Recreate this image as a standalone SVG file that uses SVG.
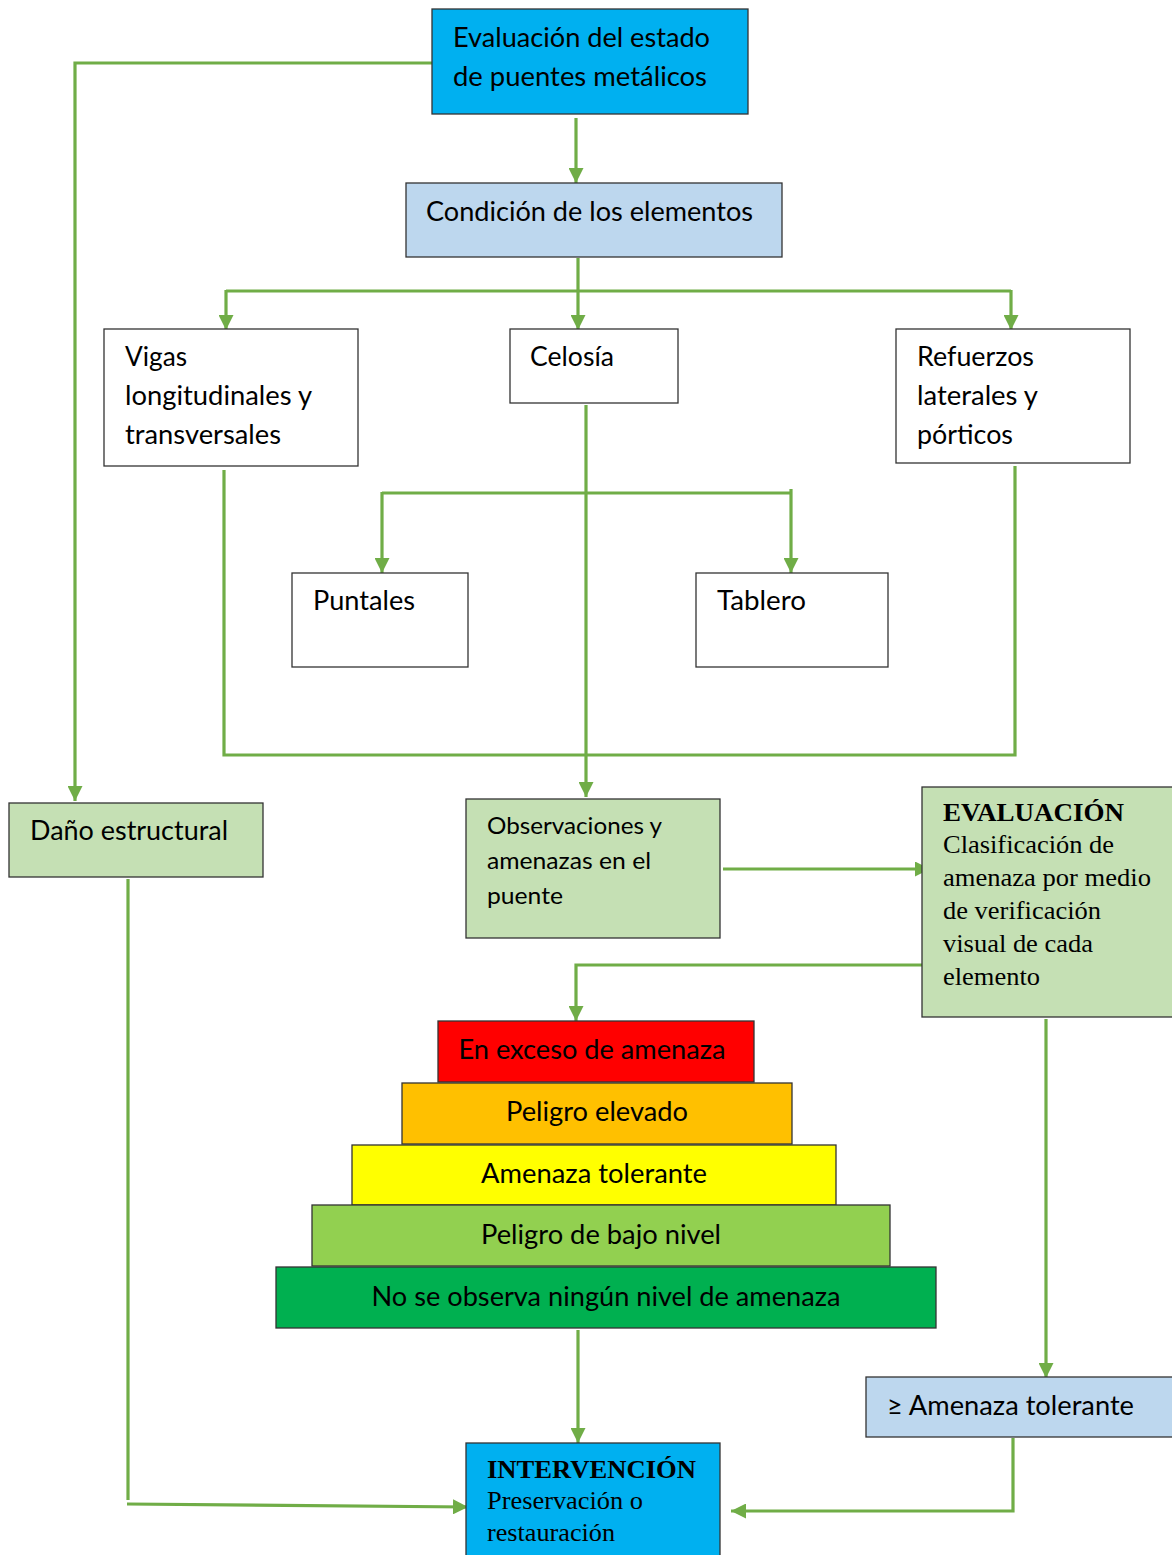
<svg xmlns="http://www.w3.org/2000/svg" width="1172" height="1555" viewBox="0 0 1172 1555">
<defs>
<marker id="ah" markerUnits="userSpaceOnUse" markerWidth="15" markerHeight="15" refX="15" refY="7.5" orient="auto">
<path d="M0,0 L15,7.5 L0,15 z" fill="#70AD47"/>
</marker>
<style>
.box{stroke:#333;stroke-width:1.3}
.s{font-family:Lato,"Open Sans","Liberation Sans",sans-serif;font-size:26px;fill:#000}
.sm{font-size:23px}
.pt{font-size:26px;text-anchor:middle}
.r{font-family:"Liberation Serif","Times New Roman",serif;font-size:25px;fill:#000}
.b{font-weight:bold}
.c{fill:none;stroke:#70AD47;stroke-width:3.2}
</style>
</defs>
<rect width="1172" height="1555" fill="#fff"/>

<g id="connectors">
<path class="c" d="M576,118 V183" marker-end="url(#ah)"/>
<path class="c" d="M578,258 V291"/>
<path class="c" d="M226,291 H1011"/>
<path class="c" d="M226,290 V330" marker-end="url(#ah)"/>
<path class="c" d="M578,290 V330" marker-end="url(#ah)"/>
<path class="c" d="M1011,290 V330" marker-end="url(#ah)"/>
<path class="c" d="M586,405 V797" marker-end="url(#ah)"/>
<path class="c" d="M382,493 H791"/>
<path class="c" d="M382,492 V573" marker-end="url(#ah)"/>
<path class="c" d="M791,489 V573" marker-end="url(#ah)"/>
<path class="c" d="M224,470 V755 H1015 V466"/>
<path class="c" d="M432,63 H75 V801" marker-end="url(#ah)"/>
<path class="c" d="M128,879 V1500"/>
<path class="c" d="M127,1504 L468,1507" marker-end="url(#ah)"/>
<path class="c" d="M723,869 H930" marker-end="url(#ah)"/>
<path class="c" d="M928,965 H576 V1021" marker-end="url(#ah)"/>
<path class="c" d="M1046,1019 V1378" marker-end="url(#ah)"/>
<path class="c" d="M1013,1438 V1511 H731" marker-end="url(#ah)"/>
<path class="c" d="M578,1330 V1443" marker-end="url(#ah)"/>
</g>

<g id="n_evaluacion_estado">
<rect class="box" x="432" y="9" width="316" height="105" fill="#00B0F0"/>
<text class="s" x="453" y="47" textLength="257" lengthAdjust="spacingAndGlyphs">Evaluación del estado</text>
<text class="s" x="453" y="86" textLength="254" lengthAdjust="spacingAndGlyphs">de puentes metálicos</text>
</g>

<g id="n_condicion">
<rect class="box" x="406" y="183" width="376" height="74" fill="#BDD7EE"/>
<text class="s" x="426" y="221" textLength="327" lengthAdjust="spacingAndGlyphs">Condición de los elementos</text>
</g>

<g id="n_vigas">
<rect class="box" x="104" y="329" width="254" height="137" fill="#fff"/>
<text class="s" x="125" y="366" textLength="62" lengthAdjust="spacingAndGlyphs">Vigas</text>
<text class="s" x="125" y="405" textLength="187" lengthAdjust="spacingAndGlyphs">longitudinales y</text>
<text class="s" x="125" y="444" textLength="156" lengthAdjust="spacingAndGlyphs">transversales</text>
</g>

<g id="n_celosia">
<rect class="box" x="510" y="329" width="168" height="74" fill="#fff"/>
<text class="s" x="530" y="366" textLength="84" lengthAdjust="spacingAndGlyphs">Celosía</text>
</g>

<g id="n_refuerzos">
<rect class="box" x="896" y="329" width="234" height="134" fill="#fff"/>
<text class="s" x="917" y="366" textLength="117" lengthAdjust="spacingAndGlyphs">Refuerzos</text>
<text class="s" x="917" y="405" textLength="121" lengthAdjust="spacingAndGlyphs">laterales y</text>
<text class="s" x="917" y="444" textLength="96" lengthAdjust="spacingAndGlyphs">pórticos</text>
</g>

<g id="n_puntales">
<rect class="box" x="292" y="573" width="176" height="94" fill="#fff"/>
<text class="s" x="313" y="610" textLength="102" lengthAdjust="spacingAndGlyphs">Puntales</text>
</g>

<g id="n_tablero">
<rect class="box" x="696" y="573" width="192" height="94" fill="#fff"/>
<text class="s" x="717" y="610" textLength="89" lengthAdjust="spacingAndGlyphs">Tablero</text>
</g>

<g id="n_dano">
<rect class="box" x="9" y="803" width="254" height="74" fill="#C5E0B4"/>
<text class="s" x="30" y="840" textLength="198" lengthAdjust="spacingAndGlyphs">Daño estructural</text>
</g>

<g id="n_observaciones">
<rect class="box" x="466" y="799" width="254" height="139" fill="#C5E0B4"/>
<text class="s sm" x="487" y="834" textLength="175" lengthAdjust="spacingAndGlyphs">Observaciones y</text>
<text class="s sm" x="487" y="869" textLength="164" lengthAdjust="spacingAndGlyphs">amenazas en el</text>
<text class="s sm" x="487" y="904" textLength="76" lengthAdjust="spacingAndGlyphs">puente</text>
</g>

<g id="n_evaluacion">
<rect class="box" x="922" y="787" width="260" height="230" fill="#C5E0B4"/>
<text class="r b" x="943" y="821" textLength="181" lengthAdjust="spacingAndGlyphs">EVALUACIÓN</text>
<text class="r" x="943" y="853" textLength="171" lengthAdjust="spacingAndGlyphs">Clasificación de</text>
<text class="r" x="943" y="886" textLength="208" lengthAdjust="spacingAndGlyphs">amenaza por medio</text>
<text class="r" x="943" y="919" textLength="158" lengthAdjust="spacingAndGlyphs">de verificación</text>
<text class="r" x="943" y="952" textLength="150" lengthAdjust="spacingAndGlyphs">visual de cada</text>
<text class="r" x="943" y="985" textLength="97" lengthAdjust="spacingAndGlyphs">elemento</text>
</g>

<g id="n_nivel1">
<rect class="box" x="438" y="1021" width="316" height="61" fill="#FF0000"/>
<text class="s pt" x="592" y="1059" textLength="267" lengthAdjust="spacingAndGlyphs">En exceso de amenaza</text>
</g>
<g id="n_nivel2">
<rect class="box" x="402" y="1083" width="390" height="61" fill="#FFC000"/>
<text class="s pt" x="597" y="1121" textLength="182" lengthAdjust="spacingAndGlyphs">Peligro elevado</text>
</g>
<g id="n_nivel3">
<rect class="box" x="352" y="1145" width="484" height="60" fill="#FFFF00"/>
<text class="s pt" x="594" y="1183" textLength="226" lengthAdjust="spacingAndGlyphs">Amenaza tolerante</text>
</g>
<g id="n_nivel4">
<rect class="box" x="312" y="1205" width="578" height="61" fill="#92D050"/>
<text class="s pt" x="601" y="1244" textLength="240" lengthAdjust="spacingAndGlyphs">Peligro de bajo nivel</text>
</g>
<g id="n_nivel5">
<rect class="box" x="276" y="1267" width="660" height="61" fill="#00B050"/>
<text class="s pt" x="606" y="1306" textLength="469" lengthAdjust="spacingAndGlyphs">No se observa ningún nivel de amenaza</text>
</g>

<g id="n_tolerante">
<rect class="box" x="866" y="1377" width="316" height="60" fill="#BDD7EE"/>
<text class="s" x="887" y="1415" textLength="247" lengthAdjust="spacingAndGlyphs">≥ Amenaza tolerante</text>
</g>

<g id="n_intervencion">
<rect class="box" x="466" y="1443" width="254" height="120" fill="#00B0F0"/>
<text class="r b" x="487" y="1478" textLength="209" lengthAdjust="spacingAndGlyphs">INTERVENCIÓN</text>
<text class="r" x="487" y="1509" textLength="156" lengthAdjust="spacingAndGlyphs">Preservación o</text>
<text class="r" x="487" y="1541" textLength="128" lengthAdjust="spacingAndGlyphs">restauración</text>
</g>
</svg>
